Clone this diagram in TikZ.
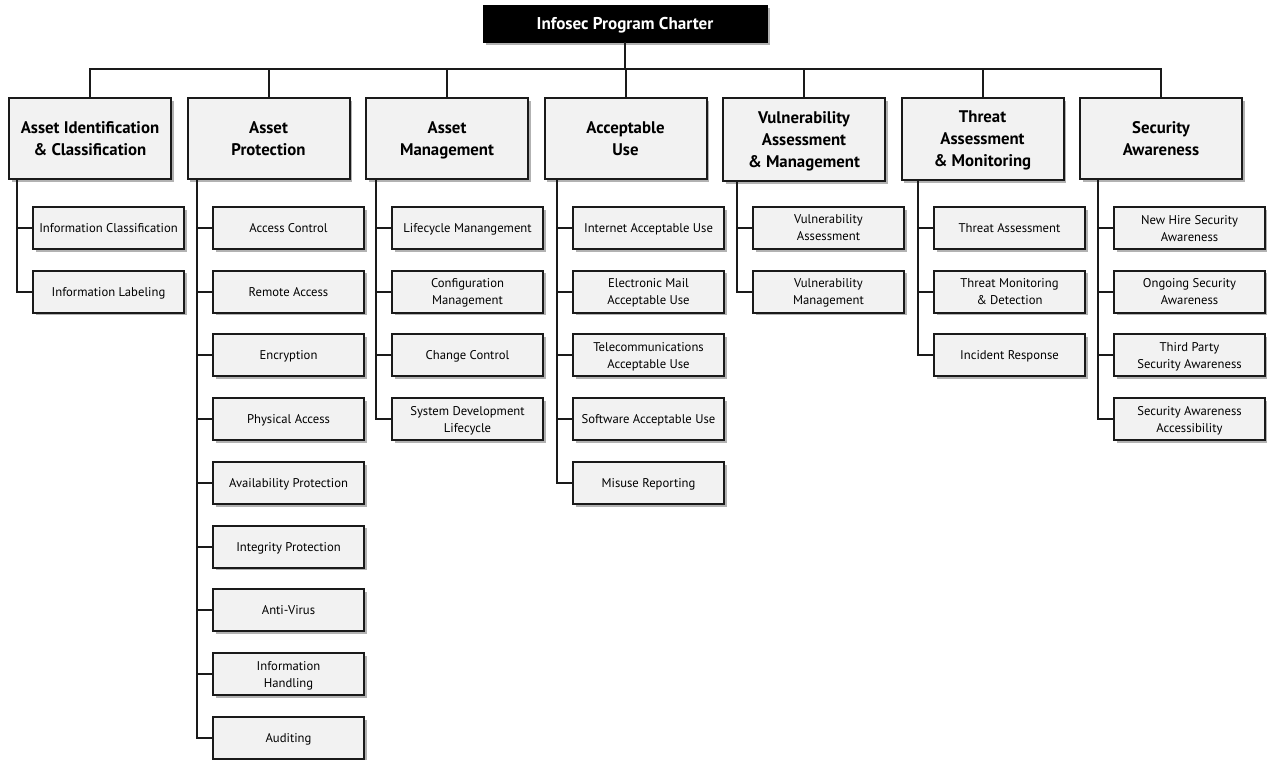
\documentclass[tikz,border=0pt]{standalone}
\usepackage{fontspec}
\setmainfont{PT Sans}
\usetikzlibrary{positioning,shadows}

\definecolor{boxgray}{HTML}{F2F2F2}
\definecolor{linegray}{HTML}{1A1A1A}

\tikzset{
  shadowed/.style={drop shadow={shadow xshift=2pt, shadow yshift=-2pt, fill=black, opacity=0.3}},
  charter/.style={draw=black, fill=black, text=white, font=\bfseries\fontsize{12.8}{15}\selectfont,
    minimum width=213pt, minimum height=27.75pt, inner sep=0pt, text depth=0pt, shadowed},
  area/.style={draw=linegray, fill=boxgray, line width=1.5pt, align=center, anchor=north,
    font=\bfseries\fontsize{12.6}{16.5}\selectfont, minimum width=121.5pt, minimum height=60.75pt,
    inner sep=0pt, text depth=0pt, shadowed},
  item/.style={draw=linegray, fill=boxgray, line width=1.5pt, align=center,
    font=\fontsize{9.5}{12.75}\selectfont, minimum width=113.25pt, minimum height=31.5pt,
    inner sep=0pt, text depth=0pt, shadowed},
  link/.style={draw=linegray, line width=1.5pt},
}

\begin{document}
\begin{tikzpicture}[x=0.75pt, y=-0.75pt, node distance=14.8pt]
  \useasboundingbox (0,0) rectangle (1267,760);
  % Define nodes
  \node[charter] (ipc) at (625,23.5) {Infosec Program Charter};
  \node[area] (aic) at (90,97) {Asset Identification\\\& Classification};
  \node[area] (ap) at (268.5,97) {Asset\\Protection};
  \node[area] (am) at (447,97) {Asset\\Management};
  \node[area] (au) at (625.5,97) {Acceptable\\Use};
  \node[area, minimum height=62.5pt] (vam) at (804,97) {Vulnerability\\Assessment\\\& Management};
  \node[area, minimum height=61.5pt] (tam) at (982.5,97) {Threat\\Assessment\\\& Monitoring};
  \node[area] (sa) at (1161,97) {Security\\Awareness};

  \node[item] (ic) at (108.5,228) {Information Classification};
  \node[item, below=of ic] (il) {Information Labeling};

  \node[item] (ac) at (288.5,228) {Access Control};
  \node[item, below=of ac] (ra) {Remote Access};
  \node[item, below=of ra] (enc) {Encryption};
  \node[item, below=of enc] (pa) {Physical Access};
  \node[item, below=of pa] (avp) {Availability Protection};
  \node[item, below=of avp] (ip) {Integrity Protection};
  \node[item, below=of ip] (av) {Anti-Virus};
  \node[item, below=of av] (ih) {Information\\Handling};
  \node[item, below=of ih] (aud) {Auditing};

  \node[item] (lm) at (467.5,228) {Lifecycle Manangement};
  \node[item, below=of lm] (cm) {Configuration\\Management};
  \node[item, below=of cm] (cc) {Change Control};
  \node[item, below=of cc] (sdl) {System Development\\Lifecycle};

  \node[item] (iau) at (648.5,228) {Internet Acceptable Use};
  \node[item, below=of iau] (emau) {Electronic Mail\\Acceptable Use};
  \node[item, below=of emau] (tau) {Telecommunications\\Acceptable Use};
  \node[item, below=of tau] (sau) {Software Acceptable Use};
  \node[item, below=of sau] (mr) {Misuse Reporting};

  \node[item] (va) at (828.5,228) {Vulnerability\\Assessment};
  \node[item, below=of va] (vm) {Vulnerability\\Management};

  \node[item] (ta) at (1009.5,228) {Threat Assessment};
  \node[item, below=of ta] (tmd) {Threat Monitoring\\\& Detection};
  \node[item, below=of tmd] (ir) {Incident Response};

  \node[item] (nhsa) at (1189.5,228) {New Hire Security\\Awareness};
  \node[item, below=of nhsa] (osa) {Ongoing Security\\Awareness};
  \node[item, below=of osa] (tpsa) {Third Party\\Security Awareness};
  \node[item, below=of tpsa] (saa) {Security Awareness\\Accessibility};

  % Connect nodes
  \coordinate (bus) at (625,69);
  \draw[link] (ipc.south) -- (bus) -| (aic.north);
  \draw[link] (bus) -| (ap.north);
  \draw[link] (bus) -| (am.north);
  \draw[link] (bus) -| (au.north);
  \draw[link] (bus) -| (vam.north);
  \draw[link] (bus) -| (tam.north);
  \draw[link] (bus) -| (sa.north);

  \coordinate (t1) at ([xshift=-11.25pt]ic.west);
  \draw[link] (aic.south -| t1) |- (ic.west);
  \draw[link] (aic.south -| t1) |- (il.west);

  \coordinate (t2) at ([xshift=-11.25pt]ac.west);
  \draw[link] (ap.south -| t2) |- (aud.west);
  \draw[link] (ac.west) -- (ac.west -| t2);
  \draw[link] (ra.west) -- (ra.west -| t2);
  \draw[link] (enc.west) -- (enc.west -| t2);
  \draw[link] (pa.west) -- (pa.west -| t2);
  \draw[link] (avp.west) -- (avp.west -| t2);
  \draw[link] (ip.west) -- (ip.west -| t2);
  \draw[link] (av.west) -- (av.west -| t2);
  \draw[link] (ih.west) -- (ih.west -| t2);

  \coordinate (t3) at ([xshift=-11.25pt]lm.west);
  \draw[link] (am.south -| t3) |- (sdl.west);
  \draw[link] (lm.west) -- (lm.west -| t3);
  \draw[link] (cm.west) -- (cm.west -| t3);
  \draw[link] (cc.west) -- (cc.west -| t3);

  \coordinate (t4) at ([xshift=-11.25pt]iau.west);
  \draw[link] (au.south -| t4) |- (mr.west);
  \draw[link] (iau.west) -- (iau.west -| t4);
  \draw[link] (emau.west) -- (emau.west -| t4);
  \draw[link] (tau.west) -- (tau.west -| t4);
  \draw[link] (sau.west) -- (sau.west -| t4);

  \coordinate (t5) at ([xshift=-11.25pt]va.west);
  \draw[link] (vam.south -| t5) |- (vm.west);
  \draw[link] (va.west) -- (va.west -| t5);

  \coordinate (t6) at ([xshift=-11.25pt]ta.west);
  \draw[link] (tam.south -| t6) |- (ir.west);
  \draw[link] (ta.west) -- (ta.west -| t6);
  \draw[link] (tmd.west) -- (tmd.west -| t6);

  \coordinate (t7) at ([xshift=-11.25pt]nhsa.west);
  \draw[link] (sa.south -| t7) |- (saa.west);
  \draw[link] (nhsa.west) -- (nhsa.west -| t7);
  \draw[link] (osa.west) -- (osa.west -| t7);
  \draw[link] (tpsa.west) -- (tpsa.west -| t7);
\end{tikzpicture}
\end{document}
